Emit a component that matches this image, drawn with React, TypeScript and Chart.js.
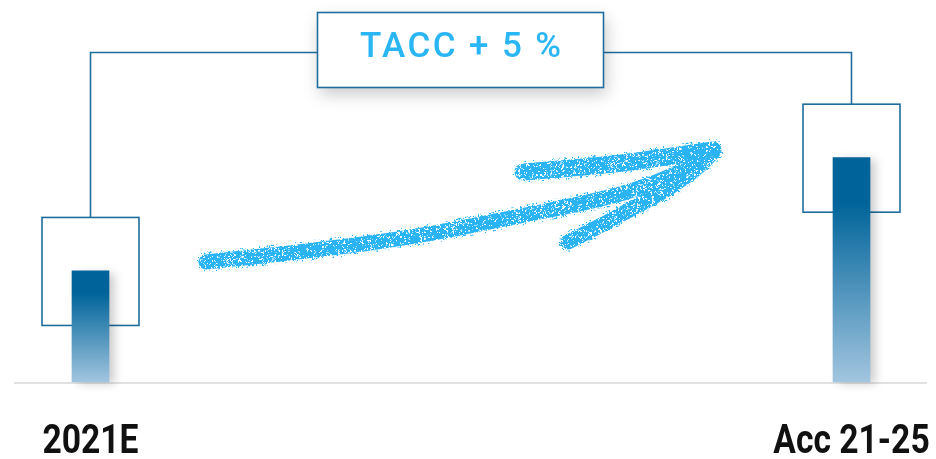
import React, { useEffect, useRef } from "react";
import { Chart, registerables } from "chart.js";

Chart.register(...registerables);

// ---- data ----
const categories: string[] = ["2021E", "Acc 21-25"];
const values: number[] = [1.0, 2.02];
const growthLabel = "TACC + 5 %";
const yMax = 3.44;

// ---- styles ----
const LINE_COLOR = "#1f6d9d";
const BAR_DARK = "#00649a";
const BAR_LIGHT = "#a2c5df";
const CHALK = [43, 180, 245];
const TEXT_BLUE = "#2ab5f5";

// arrow decoration path (pixels, decorative only)
const ARROW_SHAFT: [number, number][] = [
  [206, 262], [320, 250], [420, 236], [500, 220], [600, 200], [650, 185], [690, 167], [713, 151],
];
const ARROW_UPPER: [number, number][] = [
  [523, 172], [600, 166], [660, 158], [713, 150],
];
const ARROW_LOWER: [number, number][] = [
  [568, 242], [600, 226], [633, 208], [667, 190], [698, 168], [713, 152],
];

function hash(x: number, y: number): number {
  let n = Math.imul(x | 0, 374761393) + Math.imul(y | 0, 668265263);
  n = Math.imul(n ^ (n >>> 13), 1274126177);
  n = n ^ (n >>> 16);
  return (n >>> 0) / 4294967295;
}

function makeChalk(ctx: CanvasRenderingContext2D, density: number, seed: number) {
  const size = 96;
  const c = document.createElement("canvas");
  c.width = size;
  c.height = size;
  const g = c.getContext("2d")!;
  const img = g.createImageData(size, size);
  for (let y = 0; y < size; y++) {
    for (let x = 0; x < size; x++) {
      const n = 0.5 * hash((x >> 1) + seed, (y >> 1) + seed * 3) + 0.5 * hash(x + 101 + seed, y + 57);
      const i = (y * size + x) * 4;
      img.data[i] = CHALK[0];
      img.data[i + 1] = CHALK[1];
      img.data[i + 2] = CHALK[2];
      img.data[i + 3] = n < density ? 255 : n < density + 0.08 ? 110 : 0;
    }
  }
  g.putImageData(img, 0, 0);
  return ctx.createPattern(c, "repeat")!;
}

function strokeSmooth(ctx: CanvasRenderingContext2D, pts: [number, number][], w: number) {
  ctx.lineWidth = w;
  ctx.lineCap = "round";
  ctx.lineJoin = "round";
  ctx.beginPath();
  ctx.moveTo(pts[0][0], pts[0][1]);
  for (let i = 1; i < pts.length - 1; i++) {
    const mx = (pts[i][0] + pts[i + 1][0]) / 2;
    const my = (pts[i][1] + pts[i + 1][1]) / 2;
    ctx.quadraticCurveTo(pts[i][0], pts[i][1], mx, my);
  }
  const last = pts[pts.length - 1];
  ctx.lineTo(last[0], last[1]);
  ctx.stroke();
}

const decorPlugin = {
  id: "decor",
  beforeDatasetsDraw(chart: any) {
    const ctx: CanvasRenderingContext2D = chart.ctx;
    const bars = chart.getDatasetMeta(0).data;
    const area = chart.chartArea;
    ctx.save();
    // baseline
    ctx.strokeStyle = "#e1e1e1";
    ctx.lineWidth = 2;
    ctx.beginPath();
    ctx.moveTo(14, area.bottom + 1);
    ctx.lineTo(927, area.bottom + 1);
    ctx.stroke();

    // boxes around bar tops
    const boxW = 97;
    const boxH = 108;
    const boxOff = 53.5;
    ctx.strokeStyle = LINE_COLOR;
    ctx.lineWidth = 1.6;
    bars.forEach((b: any) => {
      ctx.strokeRect(b.x - boxW / 2, b.y - boxOff, boxW, boxH);
    });

    // connector
    const yTop = 52.5;
    ctx.beginPath();
    ctx.moveTo(bars[0].x, bars[0].y - boxOff);
    ctx.lineTo(bars[0].x, yTop);
    ctx.lineTo(bars[1].x, yTop);
    ctx.lineTo(bars[1].x, bars[1].y - boxOff);
    ctx.stroke();

    // growth label box
    const lx = 317.5, ly = 12.5, lw = 286, lh = 75;
    ctx.save();
    ctx.shadowColor = "rgba(0,0,0,0.22)";
    ctx.shadowBlur = 16;
    ctx.shadowOffsetX = 2;
    ctx.shadowOffsetY = 6;
    ctx.fillStyle = "#ffffff";
    ctx.fillRect(lx, ly, lw, lh);
    ctx.restore();
    ctx.strokeStyle = LINE_COLOR;
    ctx.lineWidth = 1.6;
    ctx.strokeRect(lx, ly, lw, lh);

    const sp = 2.4;
    ctx.font = "500 35px Roboto";
    (ctx as any).letterSpacing = sp + "px";
    ctx.fillStyle = TEXT_BLUE;
    ctx.textAlign = "left";
    ctx.textBaseline = "alphabetic";
    const tw = ctx.measureText(growthLabel).width - sp;
    ctx.fillText(growthLabel, lx + lw / 2 - tw / 2, 57);
    (ctx as any).letterSpacing = "0px";

    // chalk arrow
    const fuzzy = makeChalk(ctx, 0.22, 7);
    const dense = makeChalk(ctx, 0.66, 0);
    ctx.strokeStyle = fuzzy;
    strokeSmooth(ctx, ARROW_SHAFT, 20);
    strokeSmooth(ctx, ARROW_UPPER, 22);
    strokeSmooth(ctx, ARROW_LOWER, 20);
    ctx.strokeStyle = dense;
    strokeSmooth(ctx, ARROW_SHAFT, 15);
    strokeSmooth(ctx, ARROW_UPPER, 17);
    strokeSmooth(ctx, ARROW_LOWER, 15);
    ctx.restore();

    // shadow for bars
    ctx.save();
    ctx.shadowColor = "rgba(0,0,0,0.2)";
    ctx.shadowBlur = 9;
    ctx.shadowOffsetX = 6;
    ctx.shadowOffsetY = 2;
  },
  afterDatasetsDraw(chart: any) {
    const ctx: CanvasRenderingContext2D = chart.ctx;
    ctx.restore();
    const xs = chart.scales.x;
    ctx.save();
    ctx.fillStyle = "#111111";
    ctx.font = "bold 41px Roboto";
    ctx.textAlign = "center";
    ctx.textBaseline = "alphabetic";
    const sx = 0.82;
    chart.data.labels.forEach((lab: string, i: number) => {
      const x = xs.getPixelForValue(i);
      ctx.save();
      ctx.translate(x, 453);
      ctx.scale(sx, 1);
      ctx.fillText(lab, 0, 0);
      ctx.restore();
    });
    ctx.restore();
  },
};

export default function App() {
  const ref = useRef<HTMLCanvasElement | null>(null);
  useEffect(() => {
    if (!ref.current) return;
    const chart = new Chart(ref.current, {
      type: "bar",
      data: {
        labels: categories,
        datasets: [
          {
            data: values,
            barThickness: 37,
            clip: false as any,
            borderWidth: 0,
            backgroundColor: (c: any) => {
              const chartObj = c.chart;
              const ys = chartObj.scales?.y;
              if (!ys || c.raw == null) return BAR_DARK;
              const top = ys.getPixelForValue(c.raw);
              const bottom = ys.getPixelForValue(0);
              if (!isFinite(top) || !isFinite(bottom) || bottom <= top) return BAR_DARK;
              const g = chartObj.ctx.createLinearGradient(0, top, 0, bottom);
              g.addColorStop(0, BAR_DARK);
              g.addColorStop(0.2, BAR_DARK);
              g.addColorStop(1, BAR_LIGHT);
              return g;
            },
          },
        ],
      },
      options: {
        animation: false,
        responsive: false,
        layout: { padding: { left: 90.5, right: 84.5, top: 0, bottom: 77 } },
        plugins: { legend: { display: false }, tooltip: { enabled: false } },
        scales: {
          x: { display: false, offset: false, grid: { display: false } },
          y: { display: false, min: 0, max: yMax, grid: { display: false } },
        },
      },
      plugins: [decorPlugin],
    });
    return () => chart.destroy();
  }, []);
  return (
    <canvas
      ref={ref}
      width={936}
      height={459}
      style={{ position: "fixed", left: 0, top: 0, width: 936, height: 459, display: "block" }}
    />
  );
}
